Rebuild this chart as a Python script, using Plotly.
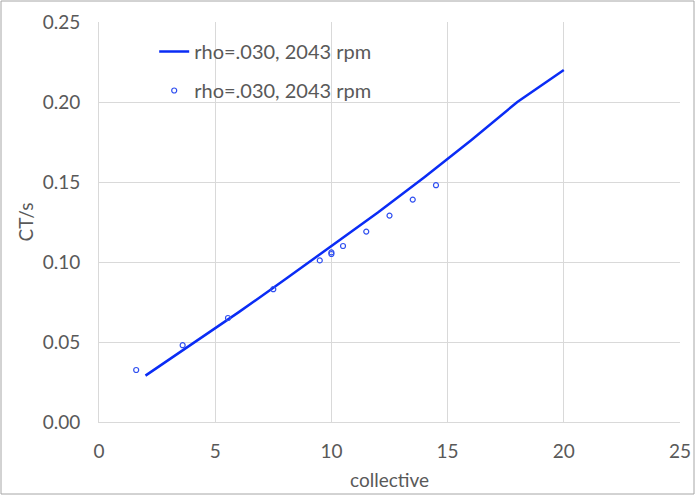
import plotly.graph_objects as go

# Model line
line_x = [2, 4, 6, 8, 10, 12, 14, 16, 18, 20]
line_y = [0.029, 0.0485, 0.0685, 0.089, 0.110, 0.131, 0.153, 0.176, 0.200, 0.220]

# Measured points
pts_x = [1.6, 3.6, 5.55, 7.5, 9.5, 10.0, 10.0, 10.5, 11.5, 12.5, 13.5, 14.5]
pts_y = [0.0325, 0.048, 0.065, 0.083, 0.101, 0.105, 0.106, 0.110, 0.119, 0.129, 0.139, 0.148]

series_name = "rho=.030, 2043 rpm"
x_ticks = [0, 5, 10, 15, 20, 25]
y_ticks = [0.00, 0.05, 0.10, 0.15, 0.20, 0.25]

FONT = "Lato, Open Sans, sans-serif"
GRAY = "#595959"
GRID = "#d9d9d9"

fig = go.Figure()
fig.add_trace(go.Scatter(
    x=line_x, y=line_y, mode="lines", name=series_name,
    line=dict(color="#0a2cf5", width=2.5), legendgroup="a",
))
fig.add_trace(go.Scatter(
    x=pts_x, y=pts_y, mode="markers", name=series_name,
    marker=dict(symbol="circle-open", size=5, color="#2f4ff0", line=dict(width=1.2)),
    legendgroup="b",
))

W, H = 696, 496
ml, mr, mt, mb = 99, 16, 22, 74
pw, ph = W - ml - mr, H - mt - mb

fig.update_layout(
    width=W, height=H,
    margin=dict(l=ml, r=mr, t=mt, b=mb, autoexpand=False),
    paper_bgcolor="white", plot_bgcolor="white",
    font=dict(family=FONT, color=GRAY, size=19),
    showlegend=True,
    legend=dict(
        x=0.095, y=0.975, xanchor="left", yanchor="top",
        bgcolor="rgba(0,0,0,0)", font=dict(size=20, color=GRAY),
        tracegroupgap=10, itemwidth=30,
    ),
    xaxis=dict(
        range=[0, 25], tickvals=x_ticks, ticktext=[str(v) for v in x_ticks],
        showgrid=True, gridcolor=GRID, gridwidth=1, automargin=False,
        showline=True, linecolor=GRID, linewidth=1, zeroline=False,
        ticks="", ticklabelstandoff=12,
        title=dict(text="collective", font=dict(size=19, color=GRAY), standoff=12),
    ),
    yaxis=dict(
        range=[0, 0.25], tickvals=y_ticks, ticktext=[f"{v:.2f}" for v in y_ticks],
        showgrid=True, gridcolor=GRID, gridwidth=1, automargin=False,
        showline=True, linecolor=GRID, linewidth=1, zeroline=False,
        ticks="", ticklabelstandoff=14,
        title=dict(text="CT/s", font=dict(size=19, color=GRAY), standoff=4),
    ),
    shapes=[dict(
        type="rect", xref="paper", yref="paper",
        x0=(1 - ml) / pw, x1=(W - 2 - ml) / pw,
        y0=-(H - 2 - mt - ph) / ph, y1=1 + (mt - 1) / ph,
        line=dict(color="#a6a6a6", width=1), layer="below",
    )],
)

fig.write_html(
    "out.html",
    config={"displayModeBar": False},
    post_script="document.body.style.margin='0';",
)
